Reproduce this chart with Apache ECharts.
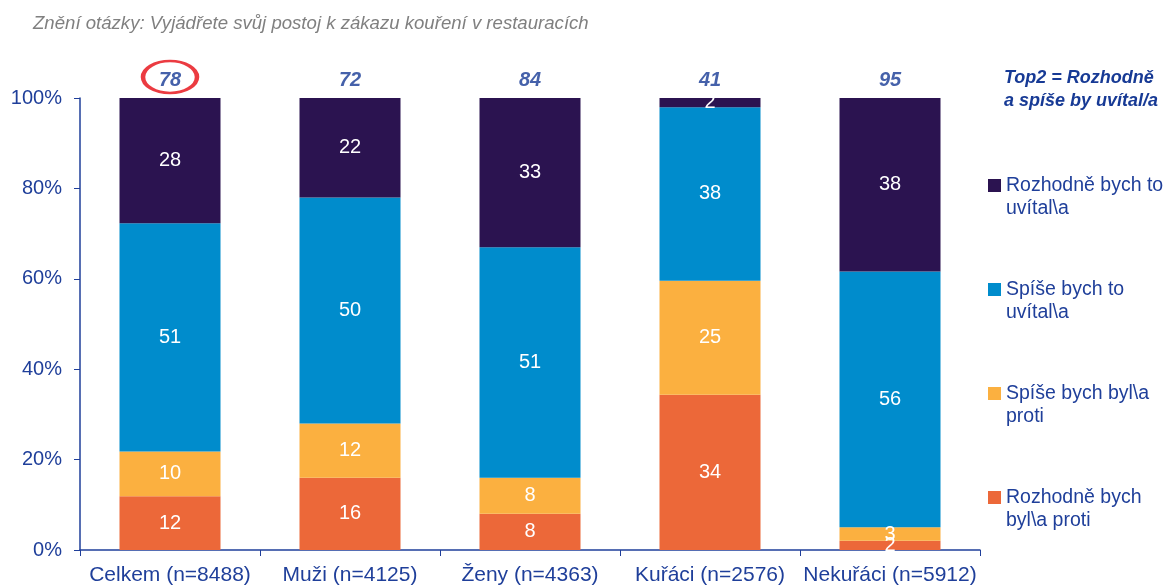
<!DOCTYPE html>
<html>
<head>
<meta charset="utf-8">
<script src="https://cdn.jsdelivr.net/npm/echarts@6/dist/echarts.min.js"></script>
<style>html,body{margin:0;padding:0;background:#fff}#c{width:1168px;height:587px}</style>
</head>
<body>
<div id="c"></div>
<script>
var categories = ['Celkem (n=8488)', 'Muži (n=4125)', 'Ženy (n=4363)', 'Kuřáci (n=2576)', 'Nekuřáci (n=5912)'];
var rozhodneProti = [12, 16, 8, 34, 2];
var spiseProti = [10, 12, 8, 25, 3];
var spiseUvital = [51, 50, 51, 38, 56];
var rozhodneUvital = [28, 22, 33, 2, 38];
var top2 = [78, 72, 84, 41, 95];
var seriesNames = ['Rozhodně bych\nbyl\\a proti', 'Spíše bych byl\\a\nproti', 'Spíše bych to\nuvítal\\a', 'Rozhodně bych to\nuvítal\\a'];
var seriesColors = ['#ec6839', '#fbb040', '#008ccc', '#2b1350'];
var title = 'Znění otázky: Vyjádřete svůj postoj k zákazu kouření v restauracích';
var top2Title = 'Top2 = Rozhodně\na spíše by uvítal/a';

var blue = '#1f3f9a';
var FF = 'Liberation Sans, Arial, sans-serif';
var raw = [rozhodneProti, spiseProti, spiseUvital, rozhodneUvital];
var totals = categories.map(function (c, i) {
  return raw.reduce(function (s, arr) { return s + arr[i]; }, 0);
});

var series = raw.map(function (arr, k) {
  return {
    name: seriesNames[k],
    type: 'bar',
    stack: 'total',
    barWidth: 101,
    itemStyle: { color: seriesColors[k] },
    label: {
      show: true,
      position: 'inside',
      color: '#fff',
      fontSize: 20,
      fontFamily: FF,
      formatter: function (p) { return arr[p.dataIndex]; }
    },
    data: arr.map(function (v, i) { return v / totals[i] * 100; })
  };
});

series.push({
  type: 'scatter',
  symbolSize: 0,
  silent: true,
  label: {
    show: true,
    position: 'top',
    distance: 8,
    color: '#173a95',
    fontSize: 20,
    fontWeight: 'bold',
    fontStyle: 'italic',
    fontFamily: FF,
    formatter: function (p) { return top2[p.dataIndex]; }
  },
  data: top2.map(function () { return 100; })
});

series.push({
  type: 'scatter',
  symbol: 'circle',
  symbolSize: [54, 32],
  symbolOffset: [0, -21],
  silent: true,
  itemStyle: { color: 'rgba(0,0,0,0)', borderColor: '#e60a12', borderWidth: 3.5 },
  data: [[0, 100]]
});

var chart = echarts.init(document.getElementById('c'));
chart.setOption({
  animation: false,
  backgroundColor: '#fff',
  title: {
    text: title,
    left: 28,
    top: 9,
    textStyle: { color: '#808080', fontSize: 18.6, fontStyle: 'italic', fontWeight: 'normal', fontFamily: FF }
  },
  graphic: [{
    type: 'text',
    left: 1004,
    top: 67,
    style: {
      text: top2Title,
      fill: '#173a95',
      font: 'italic bold 18px "Liberation Sans", Arial, sans-serif',
      lineHeight: 23
    }
  }],
  legend: {
    orient: 'vertical',
    left: 988,
    top: 174,
    padding: 0,
    itemGap: 58,
    itemWidth: 13,
    itemHeight: 36,
    itemTextGap: 4,
    icon: 'path://M0,0h13v13h-13zM0,35.95h0.05v0.05h-0.05z',
    data: seriesNames.slice().reverse(),
    textStyle: { color: blue, fontSize: 19.5, lineHeight: 23, fontFamily: FF },
    selectedMode: false
  },
  grid: { left: 80, right: 188, top: 98, bottom: 37 },
  xAxis: {
    type: 'category',
    data: categories,
    axisLine: { lineStyle: { color: blue, width: 1.5 } },
    axisTick: { show: true, length: 6, lineStyle: { color: blue } },
    axisLabel: { color: blue, fontSize: 21, margin: 15, interval: 0, fontFamily: FF }
  },
  yAxis: {
    type: 'value',
    min: 0,
    max: 100,
    interval: 20,
    axisLine: { show: true, lineStyle: { color: blue, width: 1.5 } },
    axisTick: { show: true, length: 6, lineStyle: { color: blue } },
    splitLine: { show: false },
    axisLabel: { color: blue, fontSize: 20, margin: 18, formatter: '{value}%', fontFamily: FF }
  },
  series: series
});
</script>
</body>
</html>
